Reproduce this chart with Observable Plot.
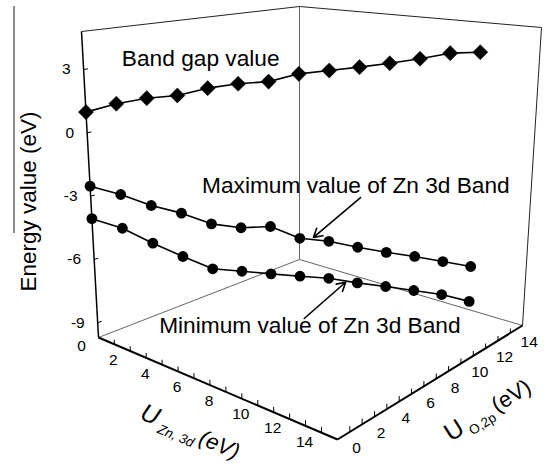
<!DOCTYPE html>
<html><head><meta charset="utf-8">
<script src="https://cdn.jsdelivr.net/npm/d3@7"></script>
<script src="https://cdn.jsdelivr.net/npm/@observablehq/plot@0.6"></script>
<style>
body{margin:0;background:#fff;}
#chart{position:relative;width:547px;height:464px;overflow:hidden;}
#chart svg{display:block;}
#crop{position:absolute;left:13px;top:6px;width:2px;height:227px;background:#8a8a8a;}
</style></head><body><div id="chart"></div>
<script>
// ---- data ----
const U = [0,1,2,3,4,5,6,7,8,9,10,11,12,13];           // U_Zn,3d = U_O,2p (eV)
const bandGap = [0.98,1.39,1.66,1.79,2.13,2.33,2.42,2.77,2.91,3.05,3.21,3.40,3.64,3.66];
const zn3dMax = [-2.53,-2.89,-3.38,-3.72,-4.21,-4.39,-4.34,-4.91,-5.08,-5.40,-5.69,-5.95,-6.27,-6.60];
const zn3dMin = [-4.07,-4.48,-5.15,-5.75,-6.31,-6.42,-6.55,-6.68,-6.81,-7.07,-7.30,-7.56,-7.84,-8.27];
const uZnTickLabels = [0,2,4,6,8,10,12,14];
const uOTickLabels = [0,2,4,6,8,10,12,14];
const minorTicks = [1,2,3,4,5,6,7,8,9,10,11,12,13,14];
const energyTicks = [-9,-6,-3,0,3];

// ---- 3D box (domains) and camera (screen corners of the box) ----
const domX = [0,15], domY = [0,15], domZ = [-9.7,4.8];
const cam = {
  floor: {A:[98,337], B:[337,439], C:[522,325], D:[299,259]},
  top:   {A:[81,31],  B:[333,55],  C:[541,27],  D:[299,6]}
};
function project(ux, uy, z) {
  const s = (ux-domX[0])/(domX[1]-domX[0]);
  const t = (uy-domY[0])/(domY[1]-domY[0]);
  const w = (z-domZ[0])/(domZ[1]-domZ[0]);
  const bil = q => [0,1].map(i => q.A[i]*(1-s)*(1-t) + q.B[i]*s*(1-t) + q.C[i]*s*t + q.D[i]*(1-s)*t);
  const f = bil(cam.floor), g = bil(cam.top);
  return [f[0]+(g[0]-f[0])*w, f[1]+(g[1]-f[1])*w];
}
const P = (ux,uy,z) => { const [x,y] = project(ux,uy,z); return {x,y}; };
const seg = (a,b,extra={}) => { const p=project(...a), q=project(...b); return {x1:p[0],y1:p[1],x2:q[0],y2:q[1],...extra}; };

const [x0,x1] = domX, [y0,y1] = domY, [z0,z1] = domZ;
const backEdges = [
  seg([x0,y0,z0],[x0,y1,z0]), seg([x0,y1,z0],[x1,y1,z0]), seg([x0,y1,z0],[x0,y1,z1])
];
const darkEdges = [
  seg([x0,y0,z1],[x0,y1,z1]), seg([x0,y1,z1],[x1,y1,z1]), seg([x1,y1,z0],[x1,y1,z1])
];
const axisEdges = [ seg([x0,y0,z0],[x1,y0,z0]), seg([x1,y0,z0],[x1,y1,z0]) ];
const leftEdge = [ seg([x0,y0,z0],[x0,y0,z1]) ];

const ticks = [
  ...energyTicks.map(e => seg([x0,y0,e],[x0,y0+0.3,e])),
  ...minorTicks.map(u => seg([u,y0,z0],[u,y0,z0+0.22])),
  ...minorTicks.map(u => seg([x1,u,z0],[x1,u,z0+0.22]))
];

const rows = [
  ...U.map((u,i)=>({u, e:bandGap[i], s:"Band gap"})),
  ...U.map((u,i)=>({u, e:zn3dMax[i], s:"Zn 3d max"})),
  ...U.map((u,i)=>({u, e:zn3dMin[i], s:"Zn 3d min"}))
].map(d => ({...d, ...P(d.u, d.u, d.e)}));

const notes = [
  {u:1.25, e:3.53, text:"Band gap value"},
  {u:3.72, e:-2.42, text:"Maximum value of Zn 3d Band"},
  {u:2.1,  e:-9.01, text:"Minimum value of Zn 3d Band"}
].map(d => ({...d, ...P(d.u,d.u,d.e)}));
const arrows = [
  seg([9.08,9.08,-3.07],[7.47,7.47,-4.88]),
  seg([7.14,7.14,-8.66],[8.59,8.59,-7.02])
];

const font = "'Liberation Sans', Arial, Helvetica, sans-serif";
const plot = Plot.plot({
  width:547, height:464, margin:0,
  x:{type:"identity", axis:null}, y:{type:"identity", axis:null},
  style:{fontFamily:font, background:"white", color:"black"},
  marks:[
    Plot.link(backEdges, {x1:"x1",y1:"y1",x2:"x2",y2:"y2", stroke:"#666", strokeWidth:1}),
    Plot.link(darkEdges, {x1:"x1",y1:"y1",x2:"x2",y2:"y2", stroke:"#222", strokeWidth:1}),
    Plot.link(leftEdge, {x1:"x1",y1:"y1",x2:"x2",y2:"y2", stroke:"black", strokeWidth:1.5}),
    Plot.link(axisEdges, {x1:"x1",y1:"y1",x2:"x2",y2:"y2", stroke:"black", strokeWidth:2}),
    Plot.link(ticks, {x1:"x1",y1:"y1",x2:"x2",y2:"y2", stroke:"black", strokeWidth:1}),
    Plot.text(energyTicks.map(e=>({e,...P(x0,y0,e)})), {x:"x",y:"y",text:d=>String(d.e), textAnchor:"end", dx:-13, fontSize:15.5}),
    Plot.text(uZnTickLabels.map(u=>({u,...P(u,y0,z0)})), {x:"x",y:"y",text:d=>String(d.u), dx:-17, dy:9, fontSize:15.5}),
    Plot.text(uOTickLabels.map(u=>({u,...P(x1,u,z0)})), {x:"x",y:"y",text:d=>String(d.u), dx:19, dy:9, fontSize:15.5}),
    Plot.line(rows, {x:"x", y:"y", z:"s", stroke:"black", strokeWidth:1.6}),
    Plot.dot(rows.filter(d=>d.s==="Band gap"), {x:"x", y:"y", symbol:"diamond2", r:6.8, fill:"black", stroke:"black", strokeWidth:0.5}),
    Plot.dot(rows.filter(d=>d.s!=="Band gap"), {x:"x", y:"y", r:5.4, fill:"black", stroke:"none"}),
    Plot.text(notes, {x:"x", y:"y", text:"text", textAnchor:"start", fontSize:22.7}),
    Plot.arrow(arrows, {x1:"x1",y1:"y1",x2:"x2",y2:"y2", stroke:"black", strokeWidth:1.6, headLength:9}),
    Plot.text([P((x0+x1)/2, y0, z0)], {x:"x", y:"y", text:()=>"TITLE_ZN", rotate:23, dx:-28, dy:44, fontSize:22}),
    Plot.text([P(x1, (y0+y1)/2, z0)], {x:"x", y:"y", text:()=>"TITLE_O", rotate:-32, dx:58, dy:28, fontSize:22}),
    Plot.text([P(x0, y0, (z0+z1)/2)], {x:"x", y:"y", text:()=>"Energy value (eV)", rotate:-90, dx:-61, dy:17, fontSize:22.5})
  ]
});
const svg = d3.select(plot);
svg.selectAll("text").each(function(){
  const t = this.textContent;
  if (t === "TITLE_ZN") {
    d3.select(this).text(null).html(
      '<tspan font-style="italic" font-size="25">U</tspan>' +
      '<tspan font-style="italic" font-size="13.5" dy="6"> Zn, 3d </tspan>' +
      '<tspan font-style="italic" font-size="22" dy="-6">(eV)</tspan>');
  } else if (t === "TITLE_O") {
    d3.select(this).text(null).html(
      '<tspan font-size="25">U</tspan>' +
      '<tspan font-size="13.5" dy="6"> O,2p </tspan>' +
      '<tspan font-size="22" dy="-6">(eV)</tspan>');
  }
});
const host = document.getElementById("chart");
host.appendChild(plot);
const crop = document.createElement("div"); crop.id = "crop"; host.appendChild(crop);
</script></body></html>
